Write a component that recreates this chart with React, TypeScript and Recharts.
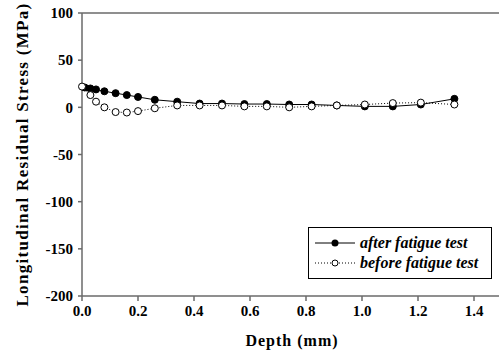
import React from "react";
import { LineChart, Line, XAxis, YAxis, ReferenceLine } from "recharts";

const depthAfter = [0.01, 0.03, 0.05, 0.08, 0.12, 0.16, 0.2, 0.26, 0.34, 0.42, 0.5, 0.58, 0.66, 0.74, 0.82, 0.91, 1.01, 1.11, 1.21, 1.33];
const stressAfter = [21, 20, 19, 17, 15, 13, 11, 8, 6, 4, 4, 3.5, 3.5, 3, 3, 2, 1, 1, 3, 9];

const depthBefore = [0.0, 0.03, 0.05, 0.08, 0.12, 0.16, 0.2, 0.26, 0.34, 0.42, 0.5, 0.58, 0.66, 0.74, 0.82, 0.91, 1.01, 1.11, 1.21, 1.33];
const stressBefore = [22, 13, 6, 0, -5, -5.5, -4, -1, 2, 2, 2, 1, 1, 0, 1, 2, 3, 4.5, 5, 3];

const xTicks = [0, 0.2, 0.4, 0.6, 0.8, 1.0, 1.2, 1.4];
const yTicks = [-200, -150, -100, -50, 0, 50, 100];

const afterData = depthAfter.map((d, i) => ({ depth: d, stress: stressAfter[i] }));
const beforeData = depthBefore.map((d, i) => ({ depth: d, stress: stressBefore[i] }));

const font = "'Liberation Serif', 'Times New Roman', serif";
const axisColor = "#6a6a6a";

// legend drawn as an overlay so it doesn't eat into the plot height
const LegendBox = () => (
  <div
    style={{
      position: "absolute",
      left: 308,
      top: 227,
      width: 184,
      height: 52,
      boxSizing: "border-box",
      border: "1px solid #000",
      background: "#fff",
      padding: "5px 0 5px 6px",
      fontFamily: font,
      fontWeight: "bold",
      fontStyle: "italic",
      fontSize: 16,
      lineHeight: "20px",
      color: "#000",
    }}
  >
    <div style={{ display: "flex", alignItems: "center" }}>
      <svg width={40} height={10} style={{ marginRight: 5 }}>
        <line x1={0} y1={5} x2={40} y2={5} stroke="#000" strokeWidth={1} />
        <circle cx={20} cy={5} r={3.5} fill="#000" />
      </svg>
      after fatigue test
    </div>
    <div style={{ display: "flex", alignItems: "center" }}>
      <svg width={40} height={10} style={{ marginRight: 5 }}>
        <line x1={0} y1={5} x2={40} y2={5} stroke="#000" strokeWidth={1} strokeDasharray="1 2" />
        <circle cx={20} cy={5} r={3} fill="#fff" stroke="#000" />
      </svg>
      before fatigue test
    </div>
  </div>
);

export default function App() {
  return (
    <div style={{ position: "absolute", left: 0, top: 0, width: 499, height: 356, overflow: "hidden", background: "#fff" }}>
      <LineChart width={510} height={356} margin={{ top: 13, right: 8, bottom: 0, left: 0 }}>
        <XAxis
          dataKey="depth"
          type="number"
          domain={[0, 1.5]}
          ticks={xTicks}
          tickFormatter={(v: number) => v.toFixed(1)}
          height={60}
          stroke={axisColor}
          strokeWidth={1.5}
          tickSize={5}
          tickMargin={4}
          tick={{ fill: "#000", fontFamily: font, fontWeight: "bold", fontSize: 15 }}
          label={{
            value: "Depth (mm)",
            position: "insideBottom",
            offset: 10,
            fill: "#000",
            fontFamily: font,
            fontWeight: "bold",
            fontSize: 16,
            letterSpacing: 1,
          }}
        />
        <YAxis
          type="number"
          domain={[-200, 100]}
          ticks={yTicks}
          width={82}
          stroke={axisColor}
          strokeWidth={1.5}
          tickSize={4}
          tickMargin={5}
          tick={{ fill: "#000", fontFamily: font, fontWeight: "bold", fontSize: 15 }}
          label={({ viewBox }: any) => (
            <text
              x={22}
              y={viewBox.y + viewBox.height / 2}
              transform={`rotate(-90, 22, ${viewBox.y + viewBox.height / 2})`}
              textAnchor="middle"
              dominantBaseline="central"
              fill="#000"
              fontFamily={font}
              fontWeight="bold"
              fontSize={17}
              letterSpacing={1.3}
            >
              Longitudinal Residual Stress (MPa)
            </text>
          )}
        />
        <ReferenceLine y={100} stroke={axisColor} strokeWidth={1.5} />
        <Line
          data={afterData}
          dataKey="stress"
          name="after fatigue test"
          stroke="#000"
          strokeWidth={1}
          dot={{ r: 3.5, fill: "#000", stroke: "#000", strokeWidth: 1 }}
          isAnimationActive={false}
        />
        <Line
          data={beforeData}
          dataKey="stress"
          name="before fatigue test"
          stroke="#000"
          strokeWidth={1}
          strokeDasharray="1 2"
          dot={{ r: 3.5, fill: "#fff", stroke: "#000", strokeWidth: 1, strokeDasharray: "" }}
          isAnimationActive={false}
        />
      </LineChart>
      <LegendBox />
    </div>
  );
}
